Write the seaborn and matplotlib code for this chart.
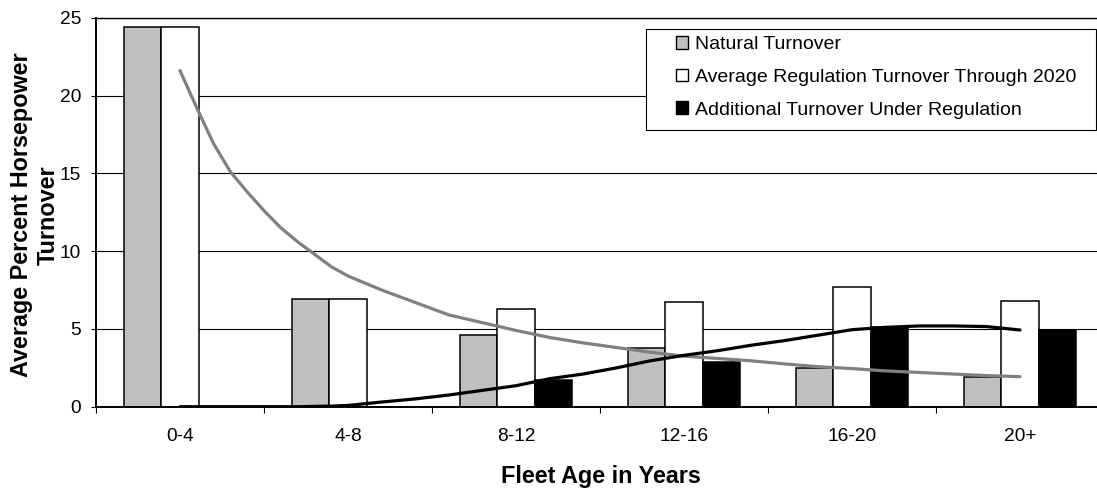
import numpy as np
import pandas as pd
import matplotlib
matplotlib.use("Agg")
import matplotlib.pyplot as plt
from matplotlib.patches import Patch, Rectangle
from matplotlib.ticker import FixedLocator
import seaborn as sns

# ---------------- data ----------------
categories = ["0-4", "4-8", "8-12", "12-16", "16-20", "20+"]
series_names = ["Natural Turnover",
                "Average Regulation Turnover Through 2020",
                "Additional Turnover Under Regulation"]
natural = [24.4, 6.9, 4.6, 3.8, 2.5, 1.9]
avg_regulation = [24.4, 6.9, 6.3, 6.7, 7.7, 6.8]
additional = [0.0, 0.0, 1.7, 2.9, 5.1, 4.9]

# trend lines (x in category units, 0 = "0-4" ... 5 = "20+")
trend_x = [0.0, 0.1, 0.2, 0.3, 0.4, 0.5, 0.6, 0.7, 0.8, 0.9, 1.0, 1.2, 1.4,
           1.6, 1.8, 2.0, 2.2, 2.4, 2.6, 2.8, 3.0, 3.2, 3.4, 3.6, 3.8, 4.0,
           4.2, 4.4, 4.6, 4.8, 5.0]
natural_trend = [21.6, 19.2, 16.9, 15.1, 13.8, 12.6, 11.5, 10.6, 9.8, 9.0,
                 8.4, 7.5, 6.7, 5.9, 5.4, 4.9, 4.45, 4.1, 3.8, 3.5, 3.25, 3.1,
                 2.95, 2.75, 2.57, 2.45, 2.3, 2.2, 2.1, 2.0, 1.93]
additional_trend = [0.0, 0.0, 0.0, 0.0, 0.0, 0.0, 0.0, 0.0, 0.02, 0.04, 0.08,
                    0.3, 0.5, 0.75, 1.05, 1.35, 1.8, 2.1, 2.5, 2.95, 3.3, 3.6,
                    3.95, 4.25, 4.6, 4.95, 5.1, 5.19, 5.19, 5.15, 4.93]

yticks = [0, 5, 10, 15, 20, 25]

# ---------------- style ----------------
sns.set_theme(style="white")
plt.rcParams["font.family"] = ["Liberation Sans", "DejaVu Sans"]

colors = {series_names[0]: "#C0C0C0",
          series_names[1]: "#FFFFFF",
          series_names[2]: "#000000"}

W, H = 1097, 488
fig = plt.figure(figsize=(W / 100, H / 100), dpi=100)
fig.patch.set_facecolor("white")
ax_left, ax_right, ax_top, ax_bot = 96, 1104, 17.7, 406.7
ax = fig.add_axes([ax_left / W, 1 - ax_bot / H, (ax_right - ax_left) / W, (ax_bot - ax_top) / H])
ax.set_facecolor("white")

df = pd.DataFrame({
    "Age": categories * 3,
    "Series": [series_names[0]] * 6 + [series_names[1]] * 6 + [series_names[2]] * 6,
    "Value": natural + avg_regulation + additional,
})

sns.barplot(data=df, x="Age", y="Value", hue="Series", order=categories,
            hue_order=series_names, palette=colors, width=0.667, gap=0,
            edgecolor="black", linewidth=1.1, legend=False, ax=ax, zorder=2)

sns.lineplot(x=trend_x, y=natural_trend, color="#808080", linewidth=2.3,
             ax=ax, zorder=3)
sns.lineplot(x=trend_x, y=additional_trend, color="#000000", linewidth=2.3,
             ax=ax, zorder=4)

# axes
ax.set_xlim(-0.5, 5.5)
ax.set_ylim(0, 25)
ax.set_yticks(yticks)
ax.set_yticklabels([str(v) for v in yticks], fontsize=13.8, color="black")
ax.set_xticks(range(len(categories)))
ax.set_xticklabels(categories, fontsize=13.8, color="black")
ax.xaxis.set_minor_locator(FixedLocator(np.arange(-0.5, 5.6, 1.0)))
ax.tick_params(axis="x", which="major", length=0, pad=15)
ax.tick_params(axis="x", which="minor", length=4.5, width=0.8, color="black",
               direction="out", bottom=True)
ax.tick_params(axis="y", which="major", length=3.8, width=0.8, color="black",
               direction="out", left=True, pad=7)

ax.yaxis.grid(True, color="black", linewidth=0.8)
ax.xaxis.grid(False)
ax.set_axisbelow(True)
for side in ["left", "bottom", "top"]:
    ax.spines[side].set_visible(True)
    ax.spines[side].set_color("black")
    ax.spines[side].set_linewidth(1.0)
ax.spines["right"].set_visible(False)
ax.spines["left"].set_linewidth(1.4)
ax.spines["bottom"].set_linewidth(1.4)

ax.set_xlabel("Fleet Age in Years", fontsize=16.8, fontweight="bold", color="black")
ax.xaxis.set_label_coords((601 - ax_left) / (ax_right - ax_left), (ax_bot - 465) / (ax_bot - ax_top))
ax.set_ylabel("")
fig.text(35 / W, 1 - 215 / H, "Average Percent Horsepower\nTurnover", rotation=90,
         ha="center", va="center", multialignment="center",
         fontsize=16.8, fontweight="bold", color="black", linespacing=1.2)

# legend box
fig.patches.append(Rectangle((646 / W, 1 - 130 / H), 450 / W, 101 / H,
                             transform=fig.transFigure, facecolor="white",
                             edgecolor="black", linewidth=0.8, zorder=5))
handles = [Patch(facecolor=colors[n], edgecolor="black", linewidth=1.0) for n in series_names]
leg = fig.legend(handles, series_names, loc="upper left",
                 bbox_to_anchor=(675.7 / W, 1 - 36 / H),
                 frameon=False, fontsize=14, borderpad=0, borderaxespad=0,
                 handlelength=0.62, handleheight=0.62, handletextpad=0.38,
                 labelspacing=0.8)
leg.set_zorder(6)
for t in leg.get_texts():
    t.set_color("black")

fig.savefig("out.png", dpi=100, facecolor="white")
